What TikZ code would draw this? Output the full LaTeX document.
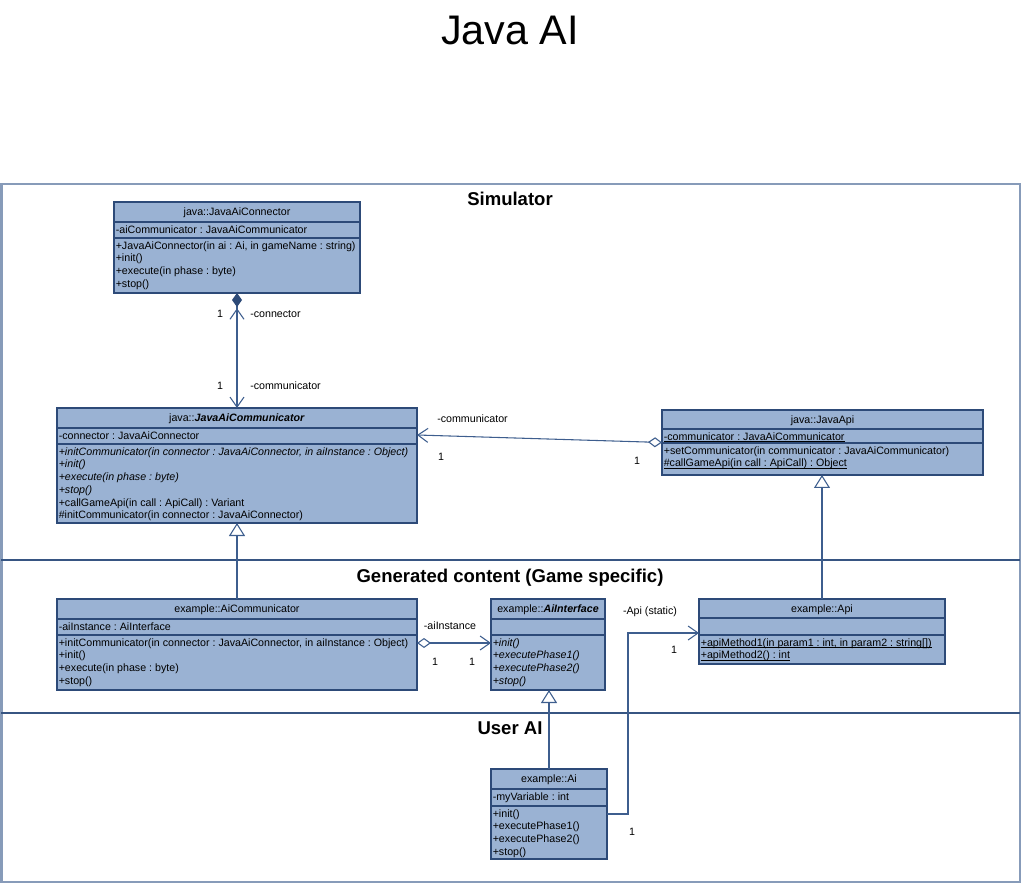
\documentclass[tikz,border=0pt]{standalone}
\usepackage{fontspec}
\setmainfont{Liberation Sans}
\usetikzlibrary{arrows.meta,calc}
\frenchspacing
\definecolor{boxfill}{RGB}{154,178,211}
\definecolor{boxline}{RGB}{45,74,120}
\definecolor{conline}{RGB}{62,94,142}
\definecolor{frameline}{RGB}{135,155,185}
\definecolor{sepline}{RGB}{55,85,130}
\newcommand\uln[1]{\setbox0\hbox{#1}\rlap{\rule[-1.1pt]{\wd0}{0.5pt}}\box0}
\tikzset{
  umlbox/.style={draw=boxline, fill=boxfill, line width=0.8pt, inner sep=0pt, outer sep=0pt, anchor=north west, rectangle},
  boxsep/.style={draw=boxline, line width=0.8pt},
  hdr/.style={anchor=base, inner sep=0pt, font=\fontsize{8pt}{9.5pt}\selectfont},
  comp/.style={anchor=north west, inner sep=0pt, align=left, font=\fontsize{8pt}{9.525pt}\selectfont},
  lbl/.style={inner sep=0pt, font=\fontsize{8pt}{9.5pt}\selectfont},
  lblw/.style={lbl, anchor=west},
  conn/.style={draw=conline, line width=0.8pt},
  sect/.style={anchor=base, inner sep=0pt, font=\fontsize{13.9pt}{16pt}\selectfont\bfseries},
  barb/.tip={Straight Barb[length=7.5pt, width=10.5pt]},
  gen/.tip={Triangle[length=9.75pt, width=12pt, fill=white]},
  odia/.tip={Diamond[length=10.5pt, width=7.5pt, fill=white]},
  fdia/.tip={Diamond[length=10.5pt, width=7.5pt, color=boxline]},
}
\newcommand\umlclass[7]{%
  \node[umlbox, minimum width={(#4-#2)*0.75pt}, minimum height={(#7-#3)*0.75pt}] (#1) at (#2,#3) {};
  \draw[boxsep] (#2,#5) -- (#4,#5) (#2,#6) -- (#4,#6);
}
\begin{document}
\begin{tikzpicture}[x=0.75pt, y=-0.75pt]
\useasboundingbox (0,0) rectangle (1022,884);
% title
\node[anchor=base, inner sep=0pt, font=\fontsize{31pt}{36pt}\selectfont] (title) at (510,45) {Java AI};
% frame and sections
\draw[draw=frameline, line width=1.5pt] (1.5,184) rectangle (1020,882);
\draw[draw=sepline, line width=1.2pt] (1.5,560) -- (1020,560);
\draw[draw=sepline, line width=1.2pt] (1.5,713) -- (1020,713);
\node[sect] (secSim) at (510,205.5) {Simulator};
\node[sect] (secGen) at (510,582) {Generated content (Game specific)};
\node[sect] (secUser) at (510,734.3) {User AI};

% ---- java::JavaAiConnector
\umlclass{conn}{114}{202}{360}{222}{238}{293}
\node[hdr] (connH) at (237,215.5) {java::JavaAiConnector};
\node[comp] (connA) at (115.5,224.1) {\strut-aiCommunicator : JavaAiCommunicator};
\node[comp] (connM) at (115.5,240.1) {\strut+JavaAiConnector(in ai : Ai, in gameName : string)\\\strut+init()\\\strut+execute(in phase : byte)\\\strut+stop()};

% ---- java::JavaAiCommunicator
\umlclass{comm}{57}{408}{417}{428}{444}{523}
\node[hdr] (commH) at (237,421.5) {java::\textbf{\textit{JavaAiCommunicator}}};
\node[comp] (commA) at (58.5,430.1) {\strut-connector : JavaAiConnector};
\node[comp] (commM) at (58.5,446.1) {\strut\textit{+initCommunicator(in connector : JavaAiConnector, in aiInstance : Object)}\\\strut\textit{+init()}\\\strut\textit{+execute(in phase : byte)}\\\strut\textit{+stop()}\\\strut+callGameApi(in call : ApiCall) : Variant\\\strut\#initCommunicator(in connector : JavaAiConnector)};

% ---- java::JavaApi
\umlclass{api}{662}{410}{983}{429}{443}{475}
\node[hdr] (apiH) at (822.5,423.5) {java::JavaApi};
\node[comp] (apiA) at (663.5,431.1) {\strut\uln{-communicator : JavaAiCommunicator}};
\node[comp] (apiM) at (663.5,445.1) {\strut+setCommunicator(in communicator : JavaAiCommunicator)\\\strut\uln{\#callGameApi(in call : ApiCall) : Object}};

% ---- example::AiCommunicator
\umlclass{aicomm}{57}{599}{417}{619}{635}{690}
\node[hdr] (aicommH) at (237,612.5) {example::AiCommunicator};
\node[comp] (aicommA) at (58.5,621.1) {\strut-aiInstance : AiInterface};
\node[comp] (aicommM) at (58.5,637.1) {\strut+initCommunicator(in connector : JavaAiConnector, in aiInstance : Object)\\\strut+init()\\\strut+execute(in phase : byte)\\\strut+stop()};

% ---- example::AiInterface
\umlclass{aiif}{491}{599}{605}{619}{635}{690}
\node[hdr] (aiifH) at (548,612.5) {example::\textbf{\textit{AiInterface}}};
\node[comp] (aiifM) at (492.5,637.1) {\strut\textit{+init()}\\\strut\textit{+executePhase1()}\\\strut\textit{+executePhase2()}\\\strut\textit{+stop()}};

% ---- example::Api
\umlclass{exapi}{699}{599}{945}{618}{635}{664}
\node[hdr] (exapiH) at (822,612.5) {example::Api};
\node[comp] (exapiM) at (700.5,637.1) {\strut\uln{+apiMethod1(in param1 : int, in param2 : string[])}\\\strut\uln{+apiMethod2() : int}};

% ---- example::Ai
\umlclass{ai}{491}{769}{607}{789}{806}{859}
\node[hdr] (aiH) at (549,782.5) {example::Ai};
\node[comp] (aiA) at (492.5,791.1) {\strut-myVariable : int};
\node[comp] (aiM) at (492.5,808.1) {\strut+init()\\\strut+executePhase1()\\\strut+executePhase2()\\\strut+stop()};

% ---- connectors
% composition JavaAiConnector <-> JavaAiCommunicator
\draw[conn, {barb}-{barb[sep=1pt] fdia}] (comm.north) -- (conn.south);
\node[lbl] (c1a) at (220,314) {1};
\node[lblw] (c1b) at (250,314) {-connector};
\node[lbl] (c2a) at (220,386) {1};
\node[lblw] (c2b) at (250,386) {-communicator};

% aggregation JavaApi -> JavaAiCommunicator
\draw[conn, {odia}-{barb}] (api.west) -- ($(comm.north east)+(0,27)$);
\node[lblw] (c3a) at (437,419) {-communicator};
\node[lbl] (c3b) at (441,457) {1};
\node[lbl] (c3c) at (637,461) {1};

% generalisations
\draw[conn, -{gen}] (aicomm.north) -- (comm.south);
\draw[conn, -{gen}] (exapi.north) -- (exapi.north |- api.south);
\draw[conn, -{gen}] (ai.north) -- (ai.north |- aiif.south);

% aggregation AiCommunicator -> AiInterface
\draw[conn, {odia}-{barb}] ($(aicomm.north east)+(0,44)$) -- ($(aiif.north west)+(0,44)$);
\node[lbl] (c4a) at (450,626) {-aiInstance};
\node[lbl] (c4b) at (435,662) {1};
\node[lbl] (c4c) at (472,662) {1};

% association Ai -> Api
\draw[conn, -{barb}] ($(ai.north east)+(0,45)$) -- ++(21,0) |- ($(exapi.north west)+(0,34)$);
\node[lbl] (c5a) at (650,612) {-Api (static)};
\node[lbl] (c5b) at (674,650) {1};
\node[lbl] (c5c) at (632,832) {1};
\end{tikzpicture}
\end{document}
